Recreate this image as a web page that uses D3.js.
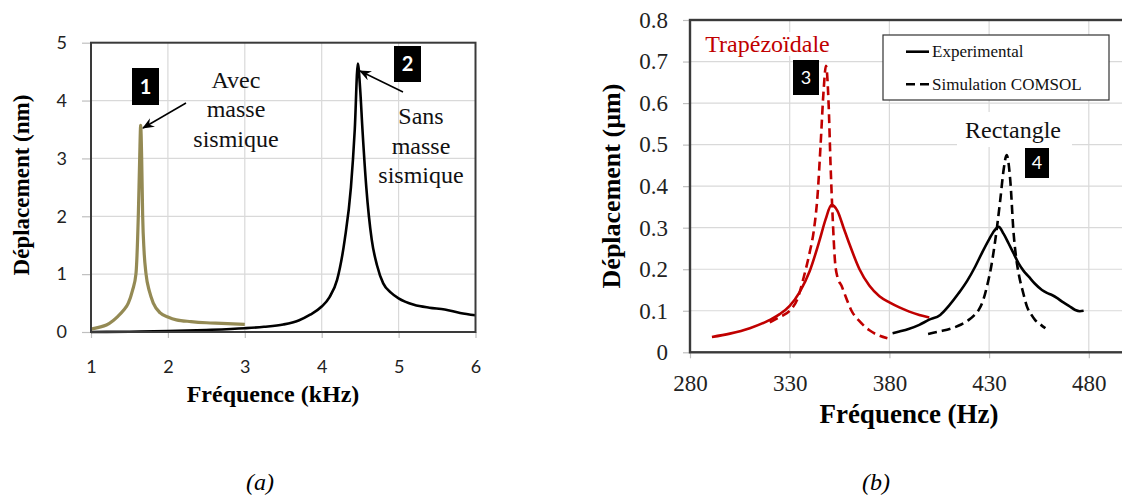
<!DOCTYPE html>
<html>
<head>
<meta charset="utf-8">
<script src="https://cdn.jsdelivr.net/npm/d3@7"></script>
<style>
  html, body { margin: 0; padding: 0; background: #fff; }
  svg { display: block; }
</style>
</head>
<body>
<script>
// ---------------- DATA ----------------
// Chart (a): displacement (nm) vs frequency (kHz)
const avecFreq = [1.0, 1.1, 1.2, 1.29, 1.35, 1.42, 1.485, 1.54, 1.585, 1.615, 1.633, 1.646, 1.659, 1.672, 1.69, 1.715, 1.76, 1.81, 1.9, 2.0, 2.11, 2.3, 2.5, 2.7, 3.0];
const avecDisp = [0.05, 0.08, 0.12, 0.2, 0.27, 0.37, 0.5, 0.72, 1.01, 2.0, 3.0, 3.57, 3.0, 2.0, 1.4, 1.01, 0.7, 0.5, 0.33, 0.26, 0.21, 0.18, 0.16, 0.15, 0.13];
const sansFreq = [1.0, 1.5, 2.0, 2.5, 3.0, 3.25, 3.5, 3.7, 3.85, 4.0, 4.1, 4.2, 4.3, 4.38, 4.43, 4.47, 4.5, 4.53, 4.58, 4.65, 4.72, 4.8, 4.9, 5.0, 5.2, 5.4, 5.6, 5.8, 6.0];
const sansDisp = [0.0, 0.005, 0.015, 0.035, 0.065, 0.09, 0.13, 0.2, 0.3, 0.44, 0.6, 0.9, 1.6, 2.5, 3.5, 4.64, 4.2, 3.5, 2.5, 1.6, 1.15, 0.84, 0.68, 0.58, 0.47, 0.42, 0.39, 0.33, 0.29];
const aXTicks = [1, 2, 3, 4, 5, 6];
const aYTicks = [0, 1, 2, 3, 4, 5];

// Chart (b): displacement (µm) vs frequency (Hz)
const trapExpFreq = [291, 300, 310, 320, 325, 330, 335, 340, 345, 348, 351, 354, 357, 360, 365, 370, 375, 380, 385, 390, 395, 400];
const trapExpDisp = [0.037, 0.045, 0.058, 0.078, 0.092, 0.112, 0.145, 0.195, 0.27, 0.32, 0.355, 0.34, 0.3, 0.26, 0.2, 0.16, 0.135, 0.12, 0.108, 0.098, 0.09, 0.084];
const trapSimFreq = [320, 325, 330, 334, 337, 340, 342, 344, 345.5, 347, 348.2, 349.5, 350.5, 351.5, 352.7, 354, 356, 358, 361, 365, 370, 375, 379];
const trapSimDisp = [0.072, 0.085, 0.1, 0.13, 0.18, 0.24, 0.29, 0.38, 0.5, 0.63, 0.69, 0.6, 0.45, 0.33, 0.22, 0.18, 0.16, 0.135, 0.1, 0.075, 0.053, 0.04, 0.034];
const rectExpFreq = [381.6, 385, 389.6, 395, 399.7, 405.5, 410, 414.7, 419, 423, 426.5, 429.8, 432.5, 434.8, 437.3, 439.8, 442.3, 444.8, 447.3, 449.9, 453, 456.5, 459, 461.5, 464, 466.6, 470, 473.2, 475.5, 477.4];
const rectExpDisp = [0.046, 0.05, 0.056, 0.066, 0.078, 0.09, 0.113, 0.142, 0.172, 0.206, 0.24, 0.27, 0.292, 0.302, 0.285, 0.262, 0.238, 0.214, 0.196, 0.182, 0.165, 0.15, 0.143, 0.138, 0.131, 0.122, 0.112, 0.102, 0.099, 0.1];
const rectSimFreq = [399.4, 405, 411.4, 416, 419.8, 422.5, 424.8, 427, 428.9, 431, 433.1, 435.6, 437.3, 438.8, 440.6, 442.3, 443.5, 444.8, 447, 449, 451, 453.2, 456, 458.2];
const rectSimDisp = [0.044, 0.05, 0.058, 0.067, 0.078, 0.089, 0.102, 0.125, 0.158, 0.205, 0.27, 0.367, 0.44, 0.475, 0.415, 0.286, 0.23, 0.19, 0.145, 0.11, 0.092, 0.077, 0.066, 0.058];
const bXTicks = [280, 330, 380, 430, 480];
const bYTicks = [0, 0.1, 0.2, 0.3, 0.4, 0.5, 0.6, 0.7, 0.8];
const bYLabels = ["0", "0.1", "0.2", "0.3", "0.4", "0.5", "0.6", "0.7", "0.8"];
const legendLabels = ["Experimental", "Simulation COMSOL"];

// ---------------- DRAWING ----------------
const W = 1122, H = 498;
const SERIF = "'Liberation Serif', 'Times New Roman', 'DejaVu Serif', serif";
const SANS = "Lato, 'Noto Sans', sans-serif";
const GRID = "#d9d9d9";
const TICK = "#bfbfbf";
const BORDER = "#3a3a3a";

const svg = d3.select("body").append("svg").attr("width", W).attr("height", H);

svg.append("defs").append("marker")
  .attr("id", "arrow")
  .attr("viewBox", "0 0 12 10")
  .attr("refX", 11).attr("refY", 5)
  .attr("markerWidth", 12).attr("markerHeight", 10)
  .attr("markerUnits", "userSpaceOnUse")
  .attr("orient", "auto")
  .append("path")
  .attr("d", "M0,0 L12,5 L0,10 L4,5 Z")
  .attr("fill", "#000");

function zip(xs, ys) { return xs.map((v, i) => [v, ys[i]]); }
function serifText(sel) { return sel.attr("font-family", SERIF).style("font-family", SERIF); }

// ======== Chart (a) ========
const xA = d3.scaleLinear().domain([1, 6]).range([91, 475.5]);
const yA = d3.scaleLinear().domain([0, 5]).range([332, 42.7]);
const gA = svg.append("g");

gA.append("g").selectAll("line").data(aXTicks.slice(1, -1)).join("line")
  .attr("x1", d => xA(d)).attr("x2", d => xA(d))
  .attr("y1", yA(5)).attr("y2", yA(0))
  .attr("stroke", GRID).attr("stroke-width", 1.2);
gA.append("g").selectAll("line").data(aYTicks.slice(1, -1)).join("line")
  .attr("x1", xA(1)).attr("x2", xA(6))
  .attr("y1", d => yA(d)).attr("y2", d => yA(d))
  .attr("stroke", GRID).attr("stroke-width", 1.2);

const axAx = gA.append("g").attr("transform", `translate(0,${yA(0)})`)
  .call(d3.axisBottom(xA).tickValues(aXTicks).tickFormat(d3.format("d")).tickSize(6).tickPadding(22));
const axAy = gA.append("g").attr("transform", `translate(${xA(1)},0)`)
  .call(d3.axisLeft(yA).tickValues(aYTicks).tickFormat(d3.format("d")).tickSize(9).tickPadding(15));
[axAx, axAy].forEach(a => {
  a.select(".domain").remove();
  a.attr("font-family", SANS).attr("font-size", 18);
  a.selectAll(".tick line").attr("stroke", TICK).attr("stroke-width", 1.2);
  a.selectAll(".tick text").attr("fill", "#222");
});

const lineA = d3.line().x(d => xA(d[0])).y(d => yA(d[1])).curve(d3.curveMonotoneX);
gA.append("path").datum(zip(sansFreq, sansDisp)).attr("d", lineA)
  .attr("fill", "none").attr("stroke", "#000").attr("stroke-width", 2.6).attr("stroke-linejoin", "round");
gA.append("path").datum(zip(avecFreq, avecDisp)).attr("d", lineA)
  .attr("fill", "none").attr("stroke", "#948a54").attr("stroke-width", 3.2).attr("stroke-linejoin", "round");

gA.append("rect").attr("x", xA(1)).attr("y", yA(5))
  .attr("width", xA(6) - xA(1)).attr("height", yA(0) - yA(5))
  .attr("fill", "none").attr("stroke", BORDER).attr("stroke-width", 2);

serifText(gA.append("text")).attr("x", 273).attr("y", 402).attr("text-anchor", "middle")
  .attr("font-weight", "bold").attr("font-size", 24)
  .text("Fréquence (kHz)");
serifText(gA.append("text")).attr("transform", "translate(29,185) rotate(-90)").attr("text-anchor", "middle")
  .attr("font-weight", "bold").attr("font-size", 23)
  .text("Déplacement (nm)");

function multiline(g, x, baselines, lines, size) {
  lines.forEach((t, i) => serifText(g.append("text")).attr("x", x).attr("y", baselines[i])
    .attr("text-anchor", "middle").attr("font-size", size).attr("fill", "#111").text(t));
}
multiline(gA, 236, [87.5, 117, 147], ["Avec", "masse", "sismique"], 24);
multiline(gA, 421, [124, 153.5, 183], ["Sans", "masse", "sismique"], 24);

function numBox(g, x, y, w, h, label, size, weight) {
  g.append("rect").attr("x", x).attr("y", y).attr("width", w).attr("height", h).attr("fill", "#000");
  g.append("text").attr("x", x + w / 2).attr("y", y + h / 2).attr("dy", "0.36em")
    .attr("text-anchor", "middle").attr("font-family", SANS).attr("font-weight", weight)
    .attr("font-size", size).attr("fill", "#fff").text(label);
}
numBox(gA, 132, 68, 27, 37, "1", 20, "bold");
numBox(gA, 394, 46, 27, 36, "2", 20, "bold");

gA.append("line").attr("x1", 186).attr("y1", 103).attr("x2", 143).attr("y2", 128)
  .attr("stroke", "#000").attr("stroke-width", 1.5).attr("marker-end", "url(#arrow)");
gA.append("line").attr("x1", 403).attr("y1", 92).attr("x2", 360).attr("y2", 71)
  .attr("stroke", "#000").attr("stroke-width", 1.5).attr("marker-end", "url(#arrow)");

// ======== Chart (b) ========
const xB = d3.scaleLinear().domain([280, 530]).range([690, 1188.5]);
const yB = d3.scaleLinear().domain([0, 0.8]).range([352.3, 20]);
const gB = svg.append("g");

gB.append("g").selectAll("line").data(bXTicks.slice(1)).join("line")
  .attr("x1", d => xB(d)).attr("x2", d => xB(d))
  .attr("y1", yB(0.8)).attr("y2", yB(0))
  .attr("stroke", GRID).attr("stroke-width", 1.2);
gB.append("g").selectAll("line").data(bYTicks.slice(1, -1)).join("line")
  .attr("x1", xB(280)).attr("x2", xB(530))
  .attr("y1", d => yB(d)).attr("y2", d => yB(d))
  .attr("stroke", GRID).attr("stroke-width", 1.2);

const axBx = gB.append("g").attr("transform", `translate(0,${yB(0)})`)
  .call(d3.axisBottom(xB).tickValues(bXTicks).tickFormat(d3.format("d")).tickSize(6).tickPadding(16));
const axBy = gB.append("g").attr("transform", `translate(${xB(280)},0)`)
  .call(d3.axisLeft(yB).tickValues(bYTicks).tickFormat((d, i) => bYLabels[i]).tickSize(7).tickPadding(15));
[axBx, axBy].forEach(a => {
  a.select(".domain").remove();
  a.attr("font-family", SERIF).attr("font-size", 23);
  a.selectAll(".tick line").attr("stroke", TICK).attr("stroke-width", 1.2);
  serifText(a.selectAll(".tick text")).attr("fill", "#222");
});

gB.append("rect").attr("x", 702).attr("y", 32).attr("width", 138).attr("height", 24).attr("fill", "#fff");
gB.append("rect").attr("x", 957).attr("y", 112).attr("width", 115).attr("height", 35).attr("fill", "#fff");

const lineB = d3.line().x(d => xB(d[0])).y(d => yB(d[1])).curve(d3.curveMonotoneX);
const RED = "#c00000";
const DASH = "9,5";
gB.append("path").datum(zip(trapExpFreq, trapExpDisp)).attr("d", lineB)
  .attr("fill", "none").attr("stroke", RED).attr("stroke-width", 2.6);
gB.append("path").datum(zip(trapSimFreq, trapSimDisp)).attr("d", lineB)
  .attr("fill", "none").attr("stroke", RED).attr("stroke-width", 2.6).attr("stroke-dasharray", DASH);
gB.append("path").datum(zip(rectExpFreq, rectExpDisp)).attr("d", lineB)
  .attr("fill", "none").attr("stroke", "#000").attr("stroke-width", 2.6);
gB.append("path").datum(zip(rectSimFreq, rectSimDisp)).attr("d", lineB)
  .attr("fill", "none").attr("stroke", "#000").attr("stroke-width", 2.6).attr("stroke-dasharray", DASH);

gB.append("rect").attr("x", xB(280)).attr("y", yB(0.8))
  .attr("width", xB(530) - xB(280)).attr("height", yB(0) - yB(0.8))
  .attr("fill", "none").attr("stroke", BORDER).attr("stroke-width", 2.4);

serifText(gB.append("text")).attr("x", 767.5).attr("y", 51.7).attr("text-anchor", "middle")
  .attr("font-size", 24).attr("fill", RED).text("Trapézoïdale");
serifText(gB.append("text")).attr("x", 1013).attr("y", 137.7).attr("text-anchor", "middle")
  .attr("font-size", 24).attr("fill", "#111").text("Rectangle");
numBox(gB, 793, 60, 26, 35, "3", 18, "normal");
numBox(gB, 1025, 148, 24, 30, "4", 18, "normal");

gB.append("rect").attr("x", 883).attr("y", 35).attr("width", 226).attr("height", 65)
  .attr("fill", "#fff").attr("stroke", "#333").attr("stroke-width", 1.2);
const legY = [51.7, 84.3];
legendLabels.forEach((t, i) => {
  gB.append("line").attr("x1", 906).attr("x2", 929).attr("y1", legY[i]).attr("y2", legY[i])
    .attr("stroke", "#000").attr("stroke-width", 2.6)
    .attr("stroke-dasharray", i === 1 ? "9,5" : null);
  serifText(gB.append("text")).attr("x", 932).attr("y", legY[i]).attr("dy", "0.33em")
    .attr("font-size", 17).attr("fill", "#111").text(t);
});

serifText(gB.append("text")).attr("x", 909).attr("y", 423).attr("text-anchor", "middle")
  .attr("font-weight", "bold").attr("font-size", 27)
  .text("Fréquence (Hz)");
serifText(gB.append("text")).attr("transform", "translate(620,186) rotate(-90)").attr("text-anchor", "middle")
  .attr("font-weight", "bold").attr("font-size", 26)
  .text("Déplacement (µm)");

serifText(svg.append("text")).attr("x", 260).attr("y", 490).attr("text-anchor", "middle")
  .attr("font-style", "italic").attr("font-size", 24).text("(a)");
serifText(svg.append("text")).attr("x", 876).attr("y", 490).attr("text-anchor", "middle")
  .attr("font-style", "italic").attr("font-size", 24).text("(b)");
</script>
</body>
</html>
